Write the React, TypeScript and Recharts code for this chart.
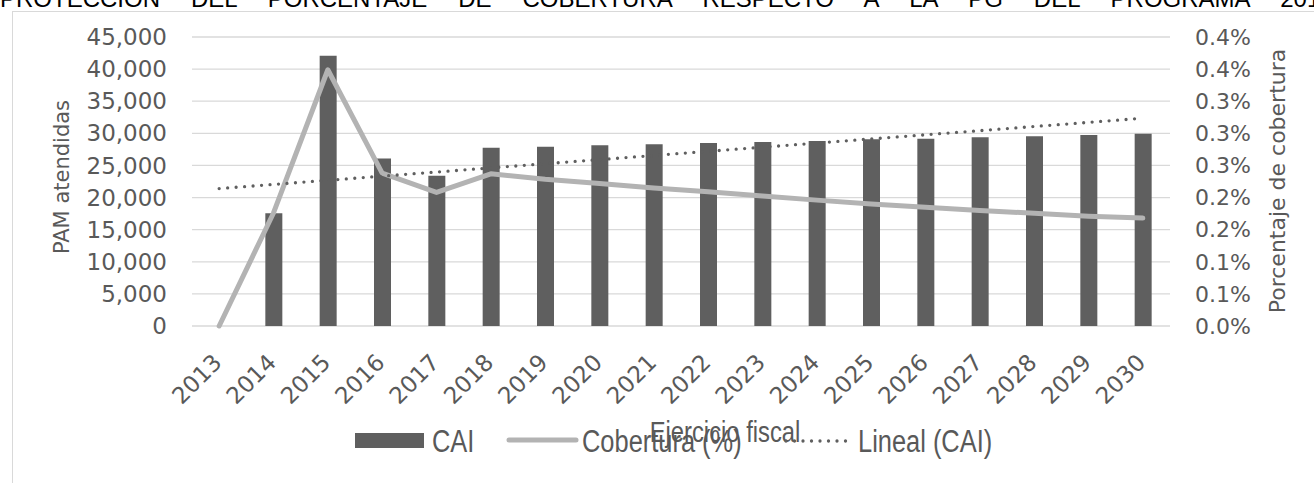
import React from "react";
import { ComposedChart, Bar, Line, XAxis, YAxis, CartesianGrid } from "recharts";

const YEARS = ["2013", "2014", "2015", "2016", "2017", "2018", "2019", "2020", "2021", "2022", "2023", "2024", "2025", "2026", "2027", "2028", "2029", "2030"];
// PAM atendidas (CAI)
const CAI = [0, 17550, 42090, 26100, 23400, 27770, 27920, 28130, 28290, 28500, 28650, 28800, 29070, 29160, 29380, 29540, 29740, 29940];
// cobertura, en %
const COBERTURA = [0, 0.176, 0.399, 0.238, 0.208, 0.237, 0.2285, 0.222, 0.215, 0.209, 0.2025, 0.196, 0.19, 0.185, 0.18, 0.1755, 0.171, 0.168];
// tendencia lineal: solo extremos
const LINEAL = [21400, null, null, null, null, null, null, null, null, null, null, null, null, null, null, null, null, 32350];

const LEFT_TICKS = [0, 5000, 10000, 15000, 20000, 25000, 30000, 35000, 40000, 45000];
const RIGHT_TICKS = [0, 0.05, 0.1, 0.15, 0.2, 0.25, 0.3, 0.35, 0.4, 0.45];
const RIGHT_TICK_LABELS = ["0.0%", "0.1%", "0.1%", "0.2%", "0.2%", "0.3%", "0.3%", "0.3%", "0.4%", "0.4%"];

const TEXT = "#595959";
const BAR = "#5f5f5f";
const LINE = "#b3b3b3";
const GRID = "#d9d9d9";
const SANS = "'DejaVu Sans', sans-serif";
const NARROW = "'Liberation Sans', Arial, sans-serif";

const rows = YEARS.map((year, i) => ({
  year,
  cai: CAI[i],
  cobertura: COBERTURA[i],
  lineal: LINEAL[i],
}));

function YearTick({ x, y, payload }: { x: number; y: number; payload: { value: string } }) {
  const ax = x + 4;
  const ay = y + 38;
  return (
    <text
      x={ax}
      y={ay}
      transform={`rotate(-45 ${ax} ${ay})`}
      textAnchor="end"
      fill={TEXT}
      fontFamily={SANS}
      fontSize={23}
    >
      {payload.value}
    </text>
  );
}

// texto estrecho: Liberation Sans comprimido a lo ancho
const legendText: React.CSSProperties = {
  position: "absolute",
  fontFamily: NARROW,
  fontSize: 31,
  lineHeight: "31px",
  color: TEXT,
  whiteSpace: "nowrap",
  transform: "scaleX(0.82)",
  transformOrigin: "left center",
};

export default function App() {
  return (
    <div
      style={{
        position: "absolute",
        left: 0,
        top: 0,
        width: 1314,
        height: 483,
        overflow: "hidden",
        background: "#fff",
      }}
    >
      <div
        style={{
          position: "absolute",
          left: 0,
          top: -13,
          width: 1395,
          fontFamily: "'Liberation Sans', Arial, sans-serif",
          fontSize: 24,
          lineHeight: "24px",
          textAlign: "justify",
          textAlignLast: "justify",
          color: "#000",
        }}
      >
        PROTECCIÓN DEL PORCENTAJE DE COBERTURA RESPECTO A LA PG DEL PROGRAMA 2013-2030
      </div>
      <div
        style={{
          position: "absolute",
          left: 12,
          top: 11,
          width: 1400,
          height: 600,
          border: `1px solid ${GRID}`,
        }}
      />
      <div style={{ position: "absolute", left: 0, top: 0 }}>
        <ComposedChart
          width={1314}
          height={483}
          data={rows}
          margin={{ top: 37, right: 0, left: 0, bottom: 77 }}
        >
          <CartesianGrid yAxisId="left" vertical={false} stroke={GRID} strokeWidth={1.3} />
          <XAxis
            dataKey="year"
            axisLine={false}
            tickLine={false}
            tickSize={0}
            tickMargin={0}
            interval={0}
            height={80}
            tick={YearTick}
          />
          <YAxis
            yAxisId="left"
            width={192}
            domain={[0, 45000]}
            ticks={LEFT_TICKS}
            interval={0}
            axisLine={false}
            tickLine={false}
            tickSize={0}
            tickMargin={25}
            tickFormatter={(v: number) => v.toLocaleString("en-US")}
            tick={{ fill: TEXT, fontFamily: SANS, fontSize: 23 }}
          />
          <YAxis
            yAxisId="right"
            orientation="right"
            width={144}
            domain={[0, 0.45]}
            ticks={RIGHT_TICKS}
            interval={0}
            axisLine={false}
            tickLine={false}
            tickSize={0}
            tickMargin={25}
            tickFormatter={(_v: number, i: number) => RIGHT_TICK_LABELS[i]}
            tick={{ fill: TEXT, fontFamily: SANS, fontSize: 22, textAnchor: "start" }}
          />
          <Bar yAxisId="left" dataKey="cai" fill={BAR} barSize={17} isAnimationActive={false} />
          <Line
            yAxisId="right"
            dataKey="cobertura"
            stroke={LINE}
            strokeWidth={5}
            strokeLinecap="round"
            strokeLinejoin="round"
            dot={false}
            activeDot={false}
            isAnimationActive={false}
          />
          <Line
            yAxisId="left"
            dataKey="lineal"
            stroke={BAR}
            strokeWidth={3.3}
            strokeDasharray="0 8.5"
            strokeLinecap="round"
            connectNulls
            dot={false}
            activeDot={false}
            isAnimationActive={false}
          />
        </ComposedChart>
      </div>

      <div
        style={{
          position: "absolute",
          left: 62,
          top: 177,
          transform: "translate(-50%, -50%) rotate(-90deg)",
          fontFamily: SANS,
          fontSize: 21,
          lineHeight: "24px",
          color: TEXT,
          whiteSpace: "nowrap",
        }}
      >
        PAM atendidas
      </div>
      <div
        style={{
          position: "absolute",
          left: 1278,
          top: 181,
          transform: "translate(-50%, -50%) rotate(-90deg)",
          fontFamily: SANS,
          fontSize: 22,
          lineHeight: "24px",
          color: TEXT,
          whiteSpace: "nowrap",
        }}
      >
        Porcentaje de cobertura
      </div>

      <div
        style={{
          ...legendText,
          left: 725,
          top: 417,
          fontSize: 29,
          transform: "translateX(-50%) scaleX(0.82)",
          transformOrigin: "center center",
        }}
      >
        Ejercicio fiscal
      </div>

      <div style={{ position: "absolute", left: 355, top: 433, width: 69, height: 15, background: BAR }} />
      <div style={{ ...legendText, left: 432, top: 426 }}>CAI</div>
      <svg style={{ position: "absolute", left: 0, top: 0 }} width={1314} height={483} pointerEvents="none">
        <line x1={509} y1={440} x2={576} y2={440} stroke={LINE} strokeWidth={5} strokeLinecap="round" />
        <line x1={786} y1={441} x2={850} y2={441} stroke={BAR} strokeWidth={3.3} strokeDasharray="0 8.5" strokeLinecap="round" />
      </svg>
      <div style={{ ...legendText, left: 582, top: 426 }}>Cobertura (%)</div>
      <div style={{ ...legendText, left: 858, top: 426 }}>Lineal (CAI)</div>
    </div>
  );
}
